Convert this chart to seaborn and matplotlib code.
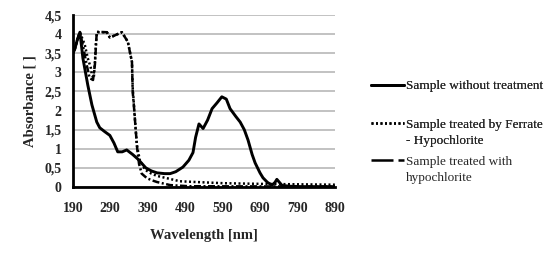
import numpy as np
import pandas as pd
import matplotlib
matplotlib.use("Agg")
import matplotlib.pyplot as plt
import seaborn as sns
from matplotlib.ticker import FuncFormatter
from matplotlib.lines import Line2D
from matplotlib.legend_handler import HandlerLine2D

# ---- data ----
wl_raw = [190, 195, 202, 209, 217, 230, 241, 254, 262, 275, 289, 300, 310, 322, 334, 350,
          365, 374, 385, 400, 415, 435, 450, 465, 484, 500, 511, 518, 527, 538, 550, 562,
          575, 588, 600, 610, 625, 637, 648, 658, 669, 677, 690, 698, 710, 722, 730, 735,
          742, 749, 770, 800, 850, 890]
abs_raw = [3.5, 3.6, 3.85, 4.05, 3.37, 2.67, 2.15, 1.7, 1.55, 1.45, 1.35, 1.15, 0.92, 0.92, 0.97, 0.85,
           0.72, 0.62, 0.5, 0.42, 0.37, 0.35, 0.35, 0.4, 0.52, 0.7, 0.9, 1.3, 1.65, 1.53, 1.75, 2.05,
           2.2, 2.36, 2.3, 2.05, 1.85, 1.7, 1.5, 1.23, 0.85, 0.63, 0.37, 0.24, 0.12, 0.05, 0.12, 0.2,
           0.12, 0.04, 0.02, 0.01, 0.01, 0.01]

wl_fer = [190, 195, 202, 209, 222, 230, 238, 241, 246, 249, 252, 255, 281, 289, 321, 337, 348,
          350, 355, 361, 369, 383, 400, 415, 450, 476, 520, 590, 700, 890]
abs_fer = [3.5, 3.6, 3.85, 4.05, 3.72, 3.37, 3.12, 2.93, 2.85, 3.25, 3.8, 4.05, 4.05, 3.91, 4.05, 3.8, 3.27,
           2.6, 1.9, 1.1, 0.7, 0.45, 0.35, 0.29, 0.21, 0.15, 0.13, 0.1, 0.08, 0.06]

wl_hyp = [190, 195, 202, 209, 217, 227, 235, 244, 249, 254, 281, 289, 321, 337, 348, 350,
          353, 358, 362, 367, 374, 388, 400, 415, 450, 500, 890]
abs_hyp = [3.5, 3.6, 3.85, 4.05, 3.7, 3.2, 2.85, 2.8, 3.2, 4.06, 4.05, 3.91, 4.05, 3.8, 3.27, 2.49,
           2.15, 1.5, 1.0, 0.6, 0.35, 0.23, 0.18, 0.13, 0.05, 0.02, 0.01]

labels = ["Sample without treatment",
          "Sample treated by Ferrate\n- Hypochlorite",
          "Sample treated with\nhypochlorite"]
x_ticks = [190, 290, 390, 490, 590, 690, 790, 890]
y_ticks = [0, 0.5, 1, 1.5, 2, 2.5, 3, 3.5, 4, 4.5]

sns.set_style("white")
plt.rcParams["font.family"] = ["Liberation Serif", "DejaVu Serif"]

fig = plt.figure(figsize=(5.6, 2.59), dpi=100)
ax = fig.add_axes([0.130, 0.278, 0.468, 0.664])

LW = 1.8
DASHDOT = (0, (2.8, 1.0, 0.8, 1.0))
DOTTED = (0, (0.8, 1.0))

df_raw = pd.DataFrame({"wl": wl_raw, "a": abs_raw})
df_fer = pd.DataFrame({"wl": wl_fer, "a": abs_fer})
df_hyp = pd.DataFrame({"wl": wl_hyp, "a": abs_hyp})

sns.lineplot(data=df_hyp, x="wl", y="a", ax=ax, color="black", lw=LW,
             linestyle=DASHDOT, estimator=None, sort=False)
sns.lineplot(data=df_fer, x="wl", y="a", ax=ax, color="black", lw=LW,
             linestyle=DOTTED, estimator=None, sort=False)
sns.lineplot(data=df_raw, x="wl", y="a", ax=ax, color="black", lw=2.1,
             linestyle="-", estimator=None, sort=False)

ax.set_xlim(190, 890)
ax.set_ylim(0, 4.5)
ax.set_xticks(x_ticks)
ax.set_yticks(y_ticks)
ax.yaxis.set_major_formatter(FuncFormatter(lambda v, p: ("%g" % v).replace(".", ",")))
ax.grid(axis="y", color="#bdbdbd", lw=1.3)
ax.grid(axis="x", visible=False)
ax.set_axisbelow(True)
for s in ["top", "right"]:
    ax.spines[s].set_visible(False)
for s in ["left", "bottom"]:
    ax.spines[s].set_color("black")
    ax.spines[s].set_linewidth(2.0)
ax.tick_params(axis="both", which="major", direction="out", length=3, width=1.5,
               color="black", labelsize=10, pad=5)
ax.tick_params(axis="x", pad=8)
for t in ax.get_xticklabels() + ax.get_yticklabels():
    t.set_fontweight("bold")
ax.set_xlabel("Wavelength [nm]", fontsize=10.5, fontweight="bold", labelpad=10)
ax.set_ylabel("Absorbance [ ]", fontsize=10.5, fontweight="bold", labelpad=6)


class FirstLineHandler(HandlerLine2D):
    def __init__(self, shift, **kw):
        super().__init__(**kw)
        self.shift = shift

    def create_artists(self, legend, orig_handle, xdescent, ydescent, width, height,
                       fontsize, trans):
        arts = super().create_artists(legend, orig_handle, xdescent, ydescent, width,
                                      height, fontsize, trans)
        for a in arts:
            a.set_ydata(np.asarray(a.get_ydata(), dtype=float) + self.shift)
        return arts


FS = 9.5
h_raw = Line2D([], [], color="black", lw=2.1, linestyle="-")
h_fer = Line2D([], [], color="black", lw=LW, linestyle=DOTTED)
h_hyp = Line2D([], [], color="black", lw=LW, linestyle=(0, (8.8, 2.0, 3.2, 10)))

common = dict(loc="upper left", frameon=False, fontsize=FS, handlelength=2.5,
              handletextpad=0.2, borderaxespad=0, borderpad=0)
tops = [1 - 80 / 259, 1 - 119 / 259, 1 - 156 / 259]
xl = 0.662
leg1 = fig.legend([h_raw], [labels[0]], bbox_to_anchor=(xl, tops[0]), **common)
fig.add_artist(leg1)
leg2 = fig.legend([h_fer], [labels[1]], bbox_to_anchor=(xl, tops[1]),
                  handler_map={h_fer: FirstLineHandler(0.7 * FS)}, **common)
fig.add_artist(leg2)
leg3 = fig.legend([h_hyp], [labels[2]], bbox_to_anchor=(xl, tops[2]),
                  handler_map={h_hyp: FirstLineHandler(0.7 * FS)}, **common)
for lg in (leg2, leg3):
    for t in lg.get_texts():
        t.set_linespacing(1.4)

fig.savefig("out.png", dpi=100)
